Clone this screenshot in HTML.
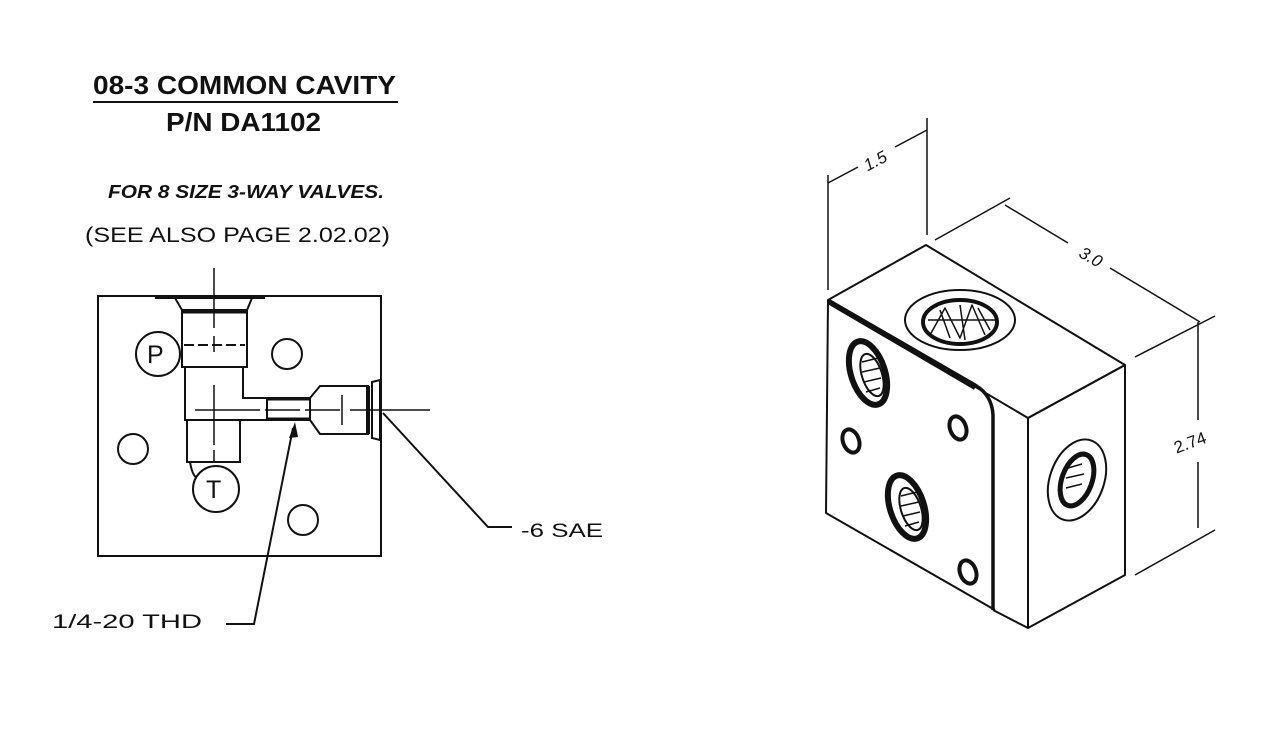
<!DOCTYPE html>
<html><head><meta charset="utf-8"><style>
html,body{margin:0;padding:0;background:#fff;width:1280px;height:730px;overflow:hidden}
svg{display:block}
text{font-family:"Liberation Sans",sans-serif;fill:#111}
</style></head><body>
<svg width="1280" height="730" viewBox="0 0 1280 730" xmlns="http://www.w3.org/2000/svg">
<rect width="1280" height="730" fill="#fff"/>
<!-- Titles -->
<text x="93" y="94" font-size="26" font-weight="bold" textLength="303" lengthAdjust="spacingAndGlyphs">08-3 COMMON CAVITY</text>
<line x1="93" y1="102" x2="398" y2="102" stroke="#111" stroke-width="2"/>
<text x="166" y="131" font-size="26" font-weight="bold" textLength="155" lengthAdjust="spacingAndGlyphs">P/N DA1102</text>
<text x="108" y="198" font-size="18" font-weight="bold" font-style="italic" textLength="276" lengthAdjust="spacingAndGlyphs">FOR 8 SIZE 3-WAY VALVES.</text>
<text x="85" y="242" font-size="21" textLength="305" lengthAdjust="spacingAndGlyphs">(SEE ALSO PAGE 2.02.02)</text>

<!-- Left block -->
<g fill="none" stroke="#111" stroke-width="2">
<rect x="98" y="296" width="283" height="260"/>
<line x1="155" y1="297" x2="265" y2="297" stroke-width="4"/>
<path d="M175 298 L182 310 L247 310 L252 298"/>
<rect x="182" y="310" width="65" height="57"/>
<line x1="182" y1="312" x2="247" y2="312" stroke-width="3"/>
<line x1="184" y1="345" x2="245" y2="345" stroke-dasharray="10,4"/>
<circle cx="158" cy="354" r="22" fill="#fff"/>
<path d="M185 367 L185 420 L267 420 M243 367 L243 398 L267 398"/>
<path d="M187 420 L187 462 L240 462 L240 420"/>
<path d="M190 462 Q193 480 200 478"/>
<circle cx="216" cy="489" r="23" fill="#fff"/>
<circle cx="287" cy="354" r="15"/>
<circle cx="133" cy="449" r="15"/>
<circle cx="303" cy="520" r="15"/>
<rect x="267" y="398" width="43" height="22"/>
<line x1="267" y1="399" x2="310" y2="399" stroke-width="3"/>
<line x1="267" y1="419" x2="310" y2="419" stroke-width="3"/>
<path d="M310 398 L320 386 L368 386 L368 434 L320 434 L310 420"/>
<line x1="368" y1="386" x2="368" y2="434" stroke-width="4"/>
<path d="M372 382 L380 380 L380 440 L372 438 Z"/>
<line x1="342" y1="395" x2="342" y2="425" stroke-width="1.5"/>
</g>
<text x="147" y="363" font-size="25">P</text>
<text x="206" y="498" font-size="25">T</text>
<g stroke="#111" stroke-width="1.5" fill="none">
<line x1="214" y1="268" x2="214" y2="328"/>
<line x1="214" y1="336" x2="214" y2="352"/>
<line x1="214" y1="385" x2="214" y2="445"/>
<line x1="214" y1="450" x2="214" y2="462"/>
<line x1="195" y1="410" x2="260" y2="410"/>
<line x1="265" y1="410" x2="300" y2="410"/>
<line x1="305" y1="410" x2="340" y2="410"/>
<line x1="350" y1="410" x2="430" y2="410"/>
</g>
<!-- leaders -->
<g stroke="#111" stroke-width="2" fill="none">
<path d="M383 413 L488 527 L512 527"/>
<path d="M293 428 L254 624 L226 624"/>
</g>
<path d="M295 422 L289 438 L298 437 Z" fill="#111"/>
<text x="521" y="537" font-size="19" textLength="82" lengthAdjust="spacingAndGlyphs">-6 SAE</text>
<text x="52" y="628" font-size="19" textLength="150" lengthAdjust="spacingAndGlyphs">1/4-20 THD</text>

<!-- Right isometric block -->
<g fill="none" stroke="#111" stroke-width="2" stroke-linejoin="round">
<path d="M828 300 L926 245 L1125 365 L1028 418 Z"/>
<path d="M1028 418 L1125 365 L1125 575 L1028 628 Z"/>
<path d="M828 300 L826 513 L995 610" />
<path d="M828 300 L975 385 Q992 395 993 415 L993 610" stroke-width="3.5"/>
<path d="M993 610 L1028 628"/>
<path d="M828 302 L975 388" stroke-width="4"/>
<ellipse cx="960" cy="320" rx="55" ry="30"/>
<ellipse cx="960" cy="322" rx="37" ry="22" stroke-width="4"/>
<path d="M930 335 L945 308 L960 338 L972 305 L985 335 M940 310 L950 338 M960 305 L965 340 M978 308 L990 330 M928 320 L998 320" stroke-width="1.5"/>
<ellipse cx="868" cy="373" rx="17" ry="33" transform="rotate(-18 868 373)" stroke-width="6"/>
<ellipse cx="872" cy="375" rx="10" ry="22" transform="rotate(-18 872 375)" stroke-width="2"/>
<path d="M862 362 L878 358 M862 372 L880 368 M864 382 L881 378 M866 392 L880 388" stroke-width="1.5"/>
<ellipse cx="907" cy="507" rx="17" ry="33" transform="rotate(-18 907 507)" stroke-width="6"/>
<ellipse cx="911" cy="509" rx="10" ry="22" transform="rotate(-18 911 509)" stroke-width="2"/>
<path d="M901 496 L917 492 M901 506 L919 502 M903 516 L920 512 M905 526 L919 522" stroke-width="1.5"/>
<ellipse cx="851" cy="441" rx="8" ry="12" transform="rotate(-20 851 441)" stroke-width="4"/>
<ellipse cx="958" cy="428" rx="8" ry="12" transform="rotate(-20 958 428)" stroke-width="4"/>
<ellipse cx="968" cy="572" rx="8" ry="12" transform="rotate(-20 968 572)" stroke-width="4"/>
<ellipse cx="1077" cy="480" rx="27" ry="42" transform="rotate(20 1077 480)"/>
<ellipse cx="1077" cy="480" rx="15" ry="27" transform="rotate(20 1077 480)" stroke-width="5"/>
<path d="M1068 468 L1082 464 M1066 478 L1084 474 M1066 488 L1082 484" stroke-width="1.5"/>
<line x1="828" y1="175" x2="828" y2="290" stroke-width="1.5"/>
<line x1="927" y1="118" x2="927" y2="235" stroke-width="1.5"/>
<line x1="828" y1="183" x2="858" y2="167" stroke-width="1.5"/>
<line x1="895" y1="147" x2="927" y2="130" stroke-width="1.5"/>
<line x1="935" y1="240" x2="1010" y2="198" stroke-width="1.5"/>
<line x1="1005" y1="205" x2="1068" y2="243" stroke-width="1.5"/>
<line x1="1110" y1="268" x2="1200" y2="322" stroke-width="1.5"/>
<line x1="1135" y1="357" x2="1215" y2="316" stroke-width="1.5"/>
<line x1="1135" y1="575" x2="1215" y2="530" stroke-width="1.5"/>
<line x1="1198" y1="322" x2="1198" y2="420" stroke-width="1.5"/>
<line x1="1198" y1="462" x2="1198" y2="528" stroke-width="1.5"/>
</g>
<text x="878" y="166" font-size="17" font-style="italic" transform="rotate(-28 878 166)" text-anchor="middle">1.5</text>
<text x="1088" y="262" font-size="17" font-style="italic" transform="rotate(30 1088 262)" text-anchor="middle">3.0</text>
<text x="1192" y="448" font-size="17" transform="rotate(-20 1192 448)" text-anchor="middle">2.74</text>
</svg>
</body></html>
